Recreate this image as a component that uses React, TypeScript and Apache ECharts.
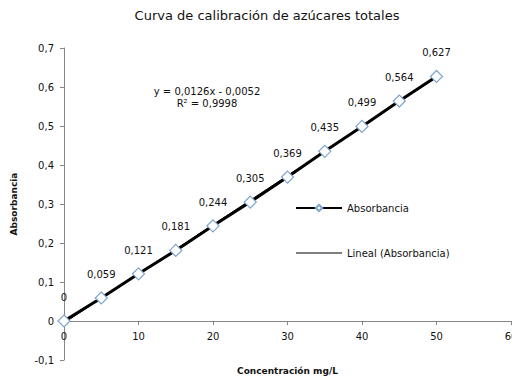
import React, { useEffect, useRef } from "react";
import * as echarts from "echarts";

const concentration = [0, 5, 10, 15, 20, 25, 30, 35, 40, 45, 50];
const absorbance = [0, 0.059, 0.121, 0.181, 0.244, 0.305, 0.369, 0.435, 0.499, 0.564, 0.627];
const trendX = [0, 50];
const trendY = [-0.0052, 0.6248];
const titleText = "Curva de calibración de azúcares totales";
const equationLines = ["y = 0,0126x - 0,0052", "R² = 0,9998"];
const seriesNames = ["Absorbancia", "Lineal (Absorbancia)"];

const fmt = (v: number) => {
  const r = Math.round(v * 1000) / 1000;
  if (r === 0) return "0";
  return String(r).replace(".", ",");
};

export default function App() {
  const ref = useRef<HTMLDivElement>(null);
  useEffect(() => {
    document.body.style.margin = "0";
    const chart = echarts.init(ref.current!, null, { renderer: "svg" });
    const font = "DejaVu Sans, Verdana, sans-serif";
    chart.setOption({
      animation: false,
      backgroundColor: "#ffffff",
      textStyle: { fontFamily: font },
      grid: { left: 64, right: 1, top: 48, bottom: 16, containLabel: false, outerBoundsMode: "none" },
      legend: {
        orient: "vertical",
        left: 290,
        top: 198,
        itemGap: 35,
        itemWidth: 46,
        itemHeight: 8,
        data: [
          { name: seriesNames[0] },
          { name: seriesNames[1], itemStyle: { opacity: 0 }, lineStyle: { width: 1.2 } },
        ],
        textStyle: { fontSize: 10, color: "#111", fontFamily: font },
      },
      xAxis: {
        type: "value",
        min: 0,
        max: 60,
        interval: 10,
        position: "bottom",
        offset: -39,
        name: "Concentración mg/L",
        nameLocation: "middle",
        nameGap: 45,
        nameTextStyle: { fontSize: 9, fontWeight: "bold", color: "#111", fontFamily: font },
        axisLine: { onZero: false, lineStyle: { color: "#868686", width: 1 } },
        axisTick: { show: true, length: 4, lineStyle: { color: "#868686" } },
        axisLabel: { fontSize: 10, color: "#111", margin: 10, formatter: (v: number) => fmt(v) },
        splitLine: { show: false },
      },
      yAxis: {
        type: "value",
        min: -0.1,
        max: 0.7,
        interval: 0.1,
        name: "Absorbancia",
        nameLocation: "middle",
        nameGap: 46,
        nameTextStyle: { fontSize: 9, fontWeight: "bold", color: "#111", fontFamily: font },
        axisLine: { show: true, onZero: false, lineStyle: { color: "#868686", width: 1 } },
        axisTick: { show: true, length: 4, lineStyle: { color: "#868686" } },
        axisLabel: { fontSize: 10, color: "#111", margin: 10, formatter: (v: number) => fmt(v) },
        splitLine: { show: false },
      },
      graphic: [
        {
          type: "text",
          x: 267,
          y: 9,
          style: {
            text: titleText,
            fontSize: 13,
            fill: "#111",
            align: "center",
            fontFamily: font,
          },
        },
        {
          type: "text",
          x: 207,
          y: 85,
          style: {
            text: equationLines.join("\n"),
            fontSize: 10,
            lineHeight: 12,
            fill: "#111",
            align: "center",
            fontFamily: font,
          },
        },
      ],
      series: [
        {
          name: seriesNames[1],
          type: "line",
          data: trendX.map((x, i) => [x, trendY[i]]),
          symbol: "none",
          lineStyle: { color: "#000", width: 1 },
          itemStyle: { color: "#000" },
          z: 1,
        },
        {
          name: seriesNames[0],
          type: "line",
          data: concentration.map((x, i) => [x, absorbance[i]]),
          symbol: "diamond",
          symbolSize: 12,
          lineStyle: { color: "#000", width: 3 },
          itemStyle: { color: "#fff", borderColor: "#7fa3d1", borderWidth: 1.2 },
          label: {
            show: true,
            position: "top",
            distance: 12,
            fontSize: 10,
            color: "#111",
            formatter: (p: any) => fmt(p.value[1]),
          },
          z: 3,
        },
      ],
    });
    return () => chart.dispose();
  }, []);
  return <div ref={ref} style={{ width: 512, height: 376 }} />;
}
